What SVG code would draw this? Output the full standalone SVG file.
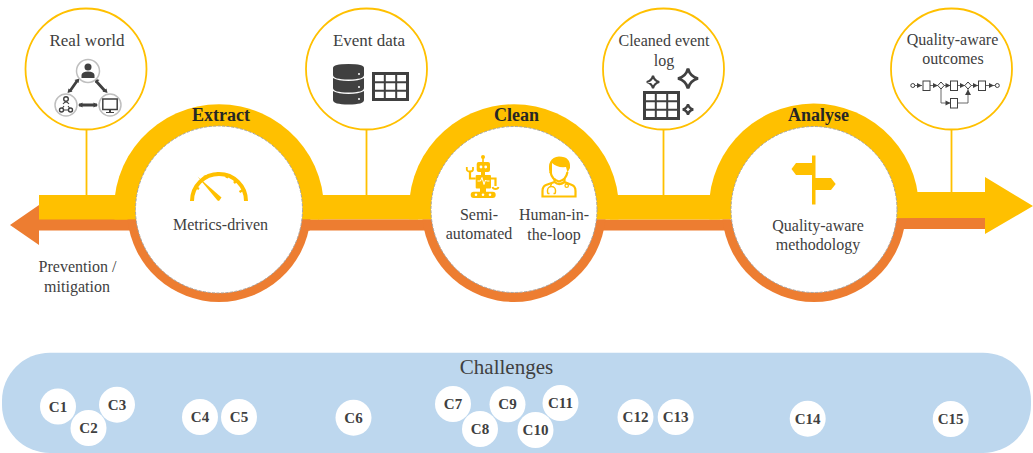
<svg xmlns="http://www.w3.org/2000/svg" xmlns:xlink="http://www.w3.org/1999/xlink" width="1033" height="453" viewBox="0 0 1033 453">
<style>
text{font-family:"Liberation Serif","Times New Roman",serif;fill:#404040;text-anchor:middle}
.t{font-size:16px}
.tb{font-size:17px}
.h{font-size:18px;font-weight:bold;fill:#262626}
.c{font-size:15px;font-weight:bold}
.top{fill:#fff;stroke:#FFC000;stroke-width:1.8}
.con{stroke:#FFC000;stroke-width:1.8;fill:none}
.y{fill:#FFC000}
.o{fill:#ED7D31}
.in{fill:#fff;stroke:#a6a6a6;stroke-width:1;stroke-dasharray:3 1.5}
.d{fill:#404040}
.ds{fill:none;stroke:#404040}
.g{fill:#fff;stroke:#bfbfbf;stroke-width:1.5}
.ch{fill:#fff}
.pl{fill:none;stroke:#595959;stroke-width:.9}
.bx{fill:#fff;stroke:#404040;stroke-width:1}
.ys{fill:none;stroke:#FFC000;stroke-width:2.2}
</style>
<defs>
<g id="grid"><path d="M0 8.700H34M0 17.300H34M11.300 0V26M22.700 0V26" class="ds" stroke-width="2"/><rect x="0" y="0" width="34" height="26" class="ds" stroke-width="3"/></g>
<path id="star" d="M0-10Q2-2 10 0Q2 2 0 10Q-2 2-10 0Q-2-2 0-10Z" fill="none" stroke="#404040"/>
<polygon id="ah" points="-3,-2.600 2,0 -3,2.600" fill="#404040"/>
</defs>

<g id="band">
<polygon class="o" points="10,225 39,205 39,219 310,219 310,230.500 39,230.500 39,245"/>
<rect class="y" x="39" y="195" width="280" height="24.500"/>
<rect class="y" x="318" y="195" width="100" height="24.500"/>
<rect class="o" x="300" y="219.500" width="430" height="11"/>
<rect class="y" x="610" y="195" width="110" height="24.500"/>
<polygon class="y" points="900,192 985,192 985,177 1033,206 985,234 985,218 900,218"/>
<rect class="o" x="890" y="218" width="95" height="11"/>
</g>

<g id="connectors">
<path class="con" d="M86.500 129V195M366.500 129V195M663.500 129V195M951.500 129V192"/>
</g>

<g id="real-world">
<circle class="top" cx="86" cy="69" r="60.500"/>
<text class="tb" x="87" y="45.500">Real world</text>
<path class="ds" stroke-width="2.800" d="M77 81L70 91M96 81L105 91M79 105H97"/>
<polygon class="d" points="79.500,78.500 74.500,80 78.500,83"/><polygon class="d" points="67.500,93 72.500,91.500 68.500,88.500"/><polygon class="d" points="94.500,78.500 99.500,80 95.500,83"/><polygon class="d" points="107.500,93 102.500,91.500 106.500,88.500"/><polygon class="d" points="78,105 82.500,102.500 82.500,107.500"/><polygon class="d" points="98,105 93.500,102.500 93.500,107.500"/>
<circle class="g" cx="88" cy="71" r="11.500"/>
<circle class="g" cx="66" cy="105" r="11"/>
<circle class="g" cx="110" cy="105" r="11"/>
<circle class="d" cx="88" cy="67" r="3.500"/><path class="d" d="M81.500 78V75Q82 71.500 88 71.500Q94 71.500 94.500 75V78Z"/>
<circle class="ds" cx="66" cy="99" r="2.300" stroke-width="1.400"/><path class="ds" stroke-width="1.100" d="M63 104Q66 100 69 104M64 106L62.500 108M68 106L69.500 108M64 110H68"/><circle class="ds" cx="61.500" cy="110" r="2" stroke-width="1.400"/><circle class="ds" cx="70.500" cy="110" r="2" stroke-width="1.400"/>
<rect class="ds" x="102.800" y="99" width="14.400" height="10.500" stroke-width="1.500"/><path class="d" d="M109 109.500H111V112H114V113H106V112H109Z"/>
</g>

<g id="event-data">
<circle class="top" cx="366.500" cy="69" r="60.500"/>
<text class="tb" x="369" y="46">Event data</text>
<g class="d">
<path d="M333 68Q333 64 348.500 64Q364 64 364 68V75Q364 79.500 348.500 79.500Q333 79.500 333 75Z"/>
<path d="M333 78Q338 81 348.500 81Q359 81 364 78V88Q364 92.500 348.500 92.500Q333 92.500 333 88Z"/>
<path d="M333 91Q338 94 348.500 94Q359 94 364 91V100Q364 104.500 348.500 104.500Q333 104.500 333 100Z"/>
</g>
<circle cx="359" cy="74" r="1" fill="#fff"/><circle cx="359" cy="87" r="1" fill="#fff"/><circle cx="359" cy="99" r="1" fill="#fff"/>
<use xlink:href="#grid" href="#grid" x="373.500" y="73.500"/>
</g>

<g id="cleaned-event-log">
<circle class="top" cx="663.500" cy="69" r="60.500"/>
<text class="t" x="664" y="46">Cleaned event</text>
<text class="t" x="664" y="65.500">log</text>
<use xlink:href="#grid" href="#grid" x="644.500" y="92.500"/>
<use xlink:href="#star" href="#star" transform="translate(653 82) scale(.62)" stroke-width="3.500"/>
<use xlink:href="#star" href="#star" transform="translate(688 78.500)" stroke-width="2.800"/>
<use xlink:href="#star" href="#star" transform="translate(688 109.500) scale(.52)" stroke-width="4.500"/>
</g>

<g id="quality-aware-outcomes">
<circle class="top" cx="951.500" cy="69" r="60.500"/>
<text class="t" x="952.500" y="45">Quality-aware</text>
<text class="t" x="953" y="64">outcomes</text>
<path class="pl" d="M915 85.500H922M930 85.500H938M944 85.500H950.500M958 85.500H965M971 85.500H978M986 85.500H995M941 88.500V103H950.500M958 103H968V88.500"/>
<circle class="bx" cx="912.800" cy="85.500" r="2"/><circle class="bx" cx="997.300" cy="85.500" r="2"/>
<rect class="bx" x="923" y="81" width="7" height="9.500"/><rect class="bx" x="950.500" y="81" width="7" height="9.500"/><rect class="bx" x="978.500" y="81" width="7" height="9.500"/><rect class="bx" x="950.500" y="98.500" width="7" height="9.500"/>
<polygon class="bx" points="941,82 944.200,85.500 941,89 937.800,85.500"/><polygon class="bx" points="968,82 971.200,85.500 968,89 964.800,85.500"/>
<use xlink:href="#ah" href="#ah" x="920" y="85.500"/><use xlink:href="#ah" href="#ah" x="936" y="85.500"/><use xlink:href="#ah" href="#ah" x="948.500" y="85.500"/><use xlink:href="#ah" href="#ah" x="963" y="85.500"/><use xlink:href="#ah" href="#ah" x="976" y="85.500"/><use xlink:href="#ah" href="#ah" x="992" y="85.500"/><use xlink:href="#ah" href="#ah" x="948.500" y="103"/>
<polygon class="d" points="968,89.500 971,95 965,95"/>
</g>

<g id="extract">
<path class="y" d="M114.500 219.500A105 105 0 1 1 323.500 219.500Z"/>
<path class="o" d="M127.500 219.500A92 92 0 0 0 310.500 219.500Z"/>
<circle class="in" cx="219" cy="209.500" r="83.500"/>
<text class="h" x="221" y="120.700">Extract</text>
<path class="ys" style="stroke-width:4" d="M192 201A27 27 0 0 1 246 201"/>
<path class="ys" style="stroke-width:2.500" d="M195.500 187L199 189M204.500 175.500L206 179M218 172V176M228 174L226.500 178M237 180L234 183M243 190L239.500 192"/>
<polygon class="y" points="197.500,176.500 221.500,197.500 219,201 217.500,200.500"/>
<text class="t" x="220.500" y="230">Metrics-driven</text>
</g>

<g id="clean">
<path class="y" d="M409.500 219.500A105 105 0 1 1 618.500 219.500Z"/>
<path class="o" d="M422.500 219.500A92 92 0 0 0 605.500 219.500Z"/>
<circle class="in" cx="514" cy="209.500" r="83"/>
<text class="h" x="516.500" y="120.700">Clean</text>
<g class="y">
<circle cx="483" cy="157" r="2"/><rect x="482.200" y="157" width="1.600" height="5"/>
<rect x="476.700" y="162" width="13.300" height="10" rx="2"/>
<rect x="481" y="172" width="4" height="3"/>
<rect x="475.700" y="175" width="15.300" height="13.500" rx="1"/>
<rect x="470.700" y="191.700" width="25" height="6.300" rx="3"/>
<rect x="480" y="188" width="6" height="4"/>
</g>
<circle cx="481" cy="167" r="1.400" fill="#fff"/><circle cx="485.700" cy="167" r="1.400" fill="#fff"/>
<path fill="none" stroke="#fff" stroke-width="1" d="M477.500 181H480.500L482 177.500L484 184.500L485.500 180L486.500 181H489.500"/>
<circle cx="476" cy="194.800" r="1.300" fill="#fff"/><circle cx="483" cy="194.800" r="1.300" fill="#fff"/><circle cx="490" cy="194.800" r="1.300" fill="#fff"/>
<path class="ys" d="M475.700 178.500H470V171"/>
<path class="ys" style="stroke-width:1.800" d="M466.800 167V169.500Q467 171.500 470 171.500Q473 171.500 473 169.500V167"/>
<path class="ys" d="M491 178.500H495.500V186"/>
<path class="ys" style="stroke-width:1.800" d="M492.500 187Q493 189 495.500 189Q498 189 498.500 187"/>
<path class="ys" d="M550.500 172Q552 180 559 181.500Q566 180 567.500 172"/>
<path class="y" d="M549.500 173Q546.500 158 559 156.500Q571 156.500 570 168L567.500 172.500L566 167Q557 168 552 163Q552 170 552 173Z"/>
<path class="ys" d="M554.500 178.500V182L546 185Q542.500 186.500 542.500 191V196.500H575.500V191Q575.500 186.500 572 185L564.500 182V178.500M554.500 182Q559 186 564.500 182"/>
<path class="ys" style="stroke-width:1.500" d="M549.500 193.500H548Q547.500 193.500 547.500 190.500A3.800 3.800 0 0 1 555.500 190.500Q555.500 193.500 555 193.500H553.500M550.500 186.500L551.500 183.500M566.500 183V184"/>
<circle class="ys" style="stroke-width:1.300" cx="566.700" cy="185.700" r="1.700"/>
<text class="t" x="479" y="220">Semi-</text>
<text class="t" x="479" y="239">automated</text>
<text class="t" x="554" y="220">Human-in-</text>
<text class="t" x="554" y="240">the-loop</text>
</g>

<g id="analyse">
<path class="y" d="M709.500 219.500A105 105 0 1 1 918.500 218Z"/>
<path class="o" d="M722.500 219.500A92 92 0 0 0 905.500 219.500Z"/>
<circle class="in" cx="814" cy="209.500" r="83"/>
<text class="h" x="818.500" y="120.700">Analyse</text>
<g class="y">
<rect x="812" y="155.500" width="3.500" height="49"/>
<polygon points="791.500,169 796,163 812,163 812,175 796,175"/>
<polygon points="815,178 831,178 835.700,184 831,190 815,190"/>
</g>
<text class="t" x="818" y="231">Quality-aware</text>
<text class="t" x="818" y="250">methodology</text>
</g>

<g id="challenges">
<rect x="2" y="352.700" width="1029" height="100.300" rx="48" fill="#BDD7EE"/>
<text x="506.500" y="374" style="font-size:21px">Challenges</text>
<g id="c1"><circle class="ch" cx="58" cy="406.500" r="18"/><text class="c" x="58" y="411.500">C1</text></g>
<g id="c2"><circle class="ch" cx="88.500" cy="428" r="18"/><text class="c" x="88.500" y="433">C2</text></g>
<g id="c3"><circle class="ch" cx="117" cy="404.700" r="18"/><text class="c" x="117" y="409.700">C3</text></g>
<g id="c4"><circle class="ch" cx="200" cy="417" r="18"/><text class="c" x="200" y="422">C4</text></g>
<g id="c5"><circle class="ch" cx="239" cy="417" r="18"/><text class="c" x="239" y="422">C5</text></g>
<g id="c6"><circle class="ch" cx="353.500" cy="417.700" r="18"/><text class="c" x="353.500" y="422.700">C6</text></g>
<g id="c7"><circle class="ch" cx="453" cy="404" r="18"/><text class="c" x="453" y="409">C7</text></g>
<g id="c8"><circle class="ch" cx="480" cy="429" r="18"/><text class="c" x="480" y="434">C8</text></g>
<g id="c9"><circle class="ch" cx="507.500" cy="404.300" r="18"/><text class="c" x="507.500" y="409.300">C9</text></g>
<g id="c10"><circle class="ch" cx="535.500" cy="430" r="18"/><text class="c" x="535.500" y="435">C10</text></g>
<g id="c11"><circle class="ch" cx="560.500" cy="403" r="18"/><text class="c" x="560.500" y="408">C11</text></g>
<g id="c12"><circle class="ch" cx="635.500" cy="417" r="18"/><text class="c" x="635.500" y="422">C12</text></g>
<g id="c13"><circle class="ch" cx="675.700" cy="417" r="18"/><text class="c" x="675.700" y="422">C13</text></g>
<g id="c14"><circle class="ch" cx="807.700" cy="418.700" r="18"/><text class="c" x="807.700" y="424">C14</text></g>
<g id="c15"><circle class="ch" cx="950.700" cy="419" r="18"/><text class="c" x="950.700" y="424.200">C15</text></g>
</g>

<g id="prevention-label">
<text class="t" x="77.500" y="272">Prevention /</text>
<text class="t" x="77" y="292">mitigation</text>
</g>
</svg>
